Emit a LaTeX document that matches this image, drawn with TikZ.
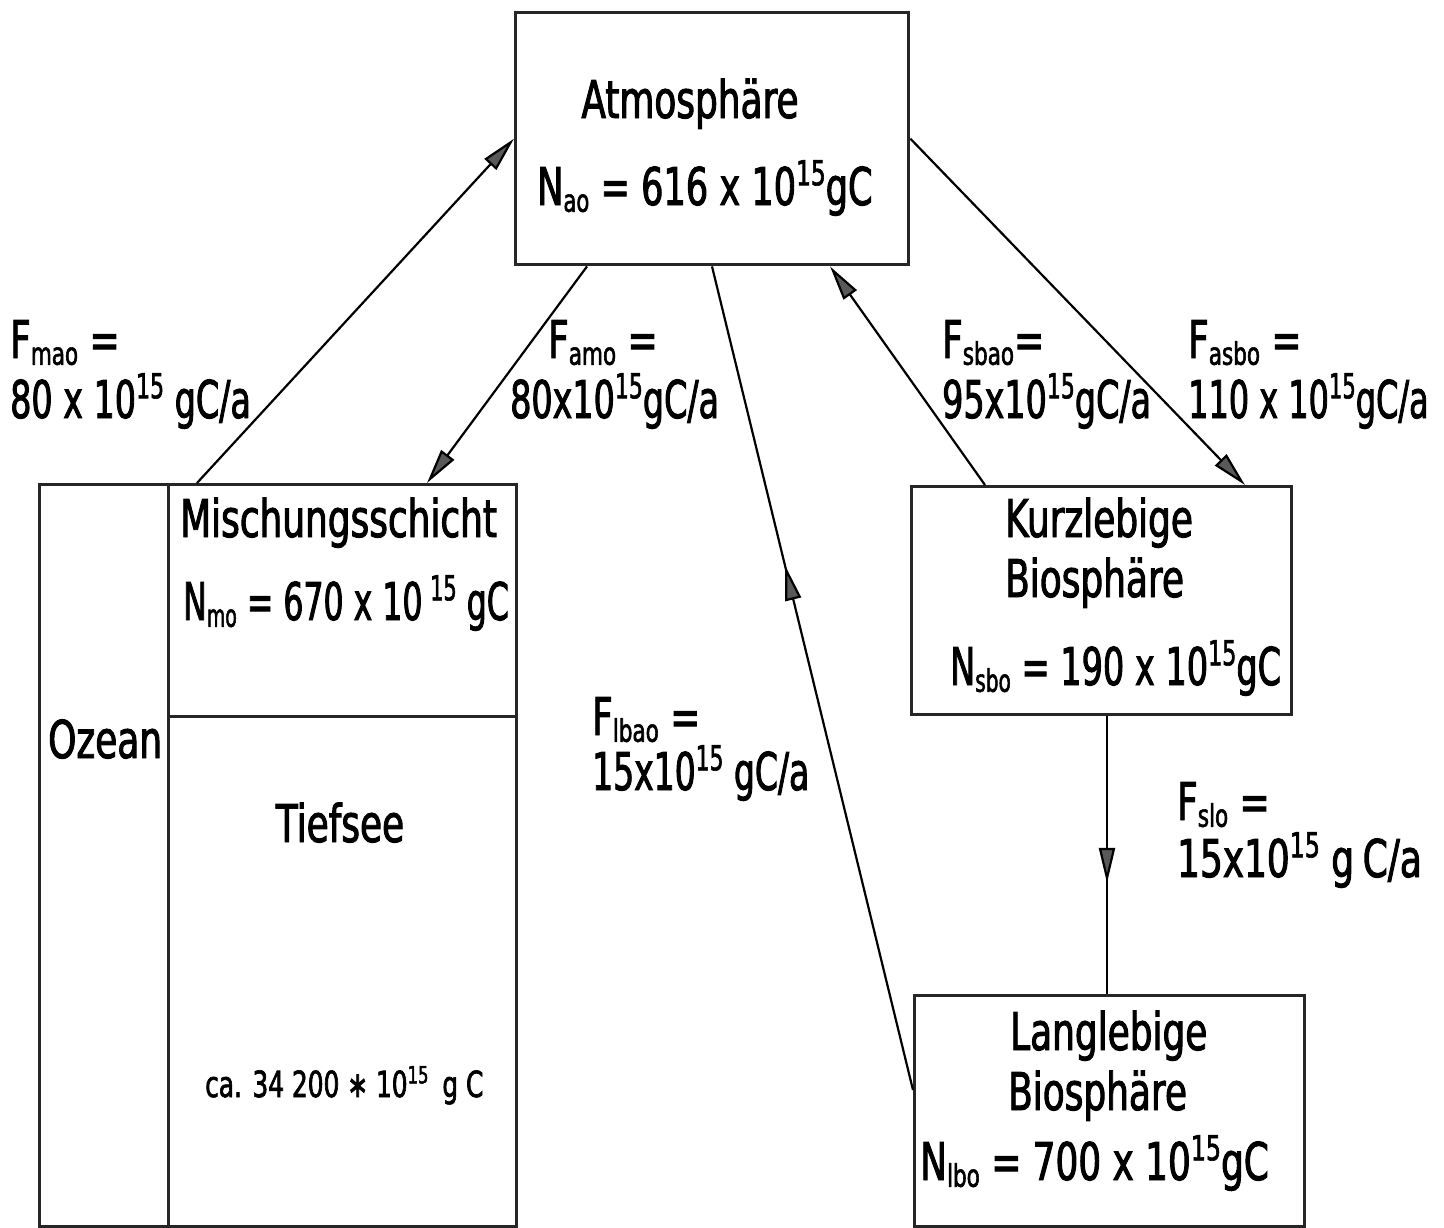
\documentclass[tikz,border=0pt]{standalone}
\usepackage{fontspec}
\setmainfont{DejaVu Sans}[FakeStretch=0.69,FakeBold=1.8]
\usetikzlibrary{arrows.meta,decorations.markings}
\newcommand\dsub[1]{\raisebox{-0.13em}{\scalebox{0.6}{#1}}}
\newcommand\dsup[1]{\raisebox{0.38em}{\scalebox{0.66}{#1}}}
\newcommand\sqz[2]{\scalebox{#1}[1]{#2}}
\begin{document}
\begin{tikzpicture}[x=1pt,y=-1pt,
  box/.style={draw=black!85, line width=3.4pt, rectangle, inner sep=0pt, anchor=north west},
  conn/.style={draw=black, line width=2.2pt},
  tip/.style={-{Triangle[length=35pt,width=16pt,fill=black!65]}},
  midtip/.style={postaction=decorate, decoration={markings, mark=at position #1 with {\arrow{Triangle[length=35pt,width=16pt,fill=black!65]}}}},
  lbl/.style={inner sep=0pt, anchor=base west, font=\fontsize{52}{60}\selectfont},
  lblc/.style={inner sep=0pt, anchor=base, font=\fontsize{52}{60}\selectfont},
]
\useasboundingbox (0,0) rectangle (1444,1227);
\fill[white] (0,0) rectangle (1444,1227);

% boxes
\node[box, minimum width=393pt, minimum height=252pt] (atm) at (514,11) {};
\node[box, minimum width=477pt, minimum height=742pt] (ocean) at (38,483) {};
\node[box, minimum width=348pt, minimum height=232pt] (mix) at (167,483) {};
\node[box, minimum width=348pt, minimum height=510pt] (deep) at (167,715) {};
\node[box, minimum width=380pt, minimum height=228pt] (kurz) at (910,485) {};
\node[box, minimum width=390pt, minimum height=231pt] (lang) at (913,994) {};

% box texts
\node[lblc] (tatm) at (690,118) {Atmosphäre};
\node[lbl] (natm) at (537,205) {\sqz{0.98}{N\dsub{ao} = 616 x 10\dsup{15}gC}};
\node[lbl] (tmix) at (180,537) {Mischungsschicht};
\node[lbl] (nmix) at (183,620) {\sqz{0.88}{N\dsub{mo} = 670 x 10\,\dsup{15} gC}};
\node[lbl] (toz) at (48,758) {Ozean};
\node[lblc] (tdeep) at (340,842) {Tiefsee};
\node[lbl, font=\fontsize{36}{40}\selectfont] (ndeep) at (205,1097) {ca. 34 200 ∗ 10\dsup{15} \,g C};
\node[lbl] (tk1) at (1005,537) {Kurzlebige};
\node[lbl] (tk2) at (1005,597) {Biosphäre};
\node[lbl] (nk) at (950,685) {\sqz{0.935}{N\dsub{sbo} = 190 x 10\dsup{15}gC}};
\node[lbl] (tl1) at (1010,1050) {Langlebige};
\node[lbl] (tl2) at (1008,1110) {Biosphäre};
\node[lbl] (nl) at (920,1180) {N\dsub{lbo} = 700 x 10\dsup{15}gC};

% flux labels
\node[lbl] (fmao1) at (10,358) {F\dsub{mao} =};
\node[lbl] (fmao2) at (10,418) {\sqz{0.93}{80 x 10\dsup{15} gC/a}};
\node[lbl] (famo1) at (548,358) {F\dsub{amo} =};
\node[lbl] (famo2) at (510,418) {\sqz{0.93}{80x10\dsup{15}gC/a}};
\node[lbl] (fsbao1) at (942,358) {F\dsub{sbao}=};
\node[lbl] (fsbao2) at (942,418) {\sqz{0.93}{95x10\dsup{15}gC/a}};
\node[lbl] (fasbo1) at (1188,358) {F\dsub{asbo} =};
\node[lbl] (fasbo2) at (1188,418) {\sqz{0.89}{110 x 10\dsup{15}gC/a}};
\node[lbl] (flbao1) at (592,735) {F\dsub{lbao} =};
\node[lbl] (flbao2) at (592,790) {\sqz{0.92}{15x10\dsup{15} gC/a}};
\node[lbl] (fslo1) at (1177,820) {F\dsub{slo} =};
\node[lbl] (fslo2) at (1177,877) {15x10\dsup{15} g\,C/a};

% connectors
\draw[conn, tip] ([xshift=30pt]mix.north west) -- (atm.west);
\draw[conn, tip] ([xshift=73pt]atm.south west) -- ([xshift=260pt]mix.north west);
\draw[conn, tip] ([xshift=75pt]kurz.north west) -- ([xshift=316pt]atm.south west);
\draw[conn, tip] (atm.east) -- ([xshift=335pt]kurz.north west);
\draw[conn, midtip=0.637] ([yshift=-96pt]lang.north west) -- ([xshift=198pt]atm.south west);
\draw[conn, midtip=0.6] ([xshift=197pt]kurz.south west) -- ([xshift=194pt]lang.north west);
\end{tikzpicture}
\end{document}
